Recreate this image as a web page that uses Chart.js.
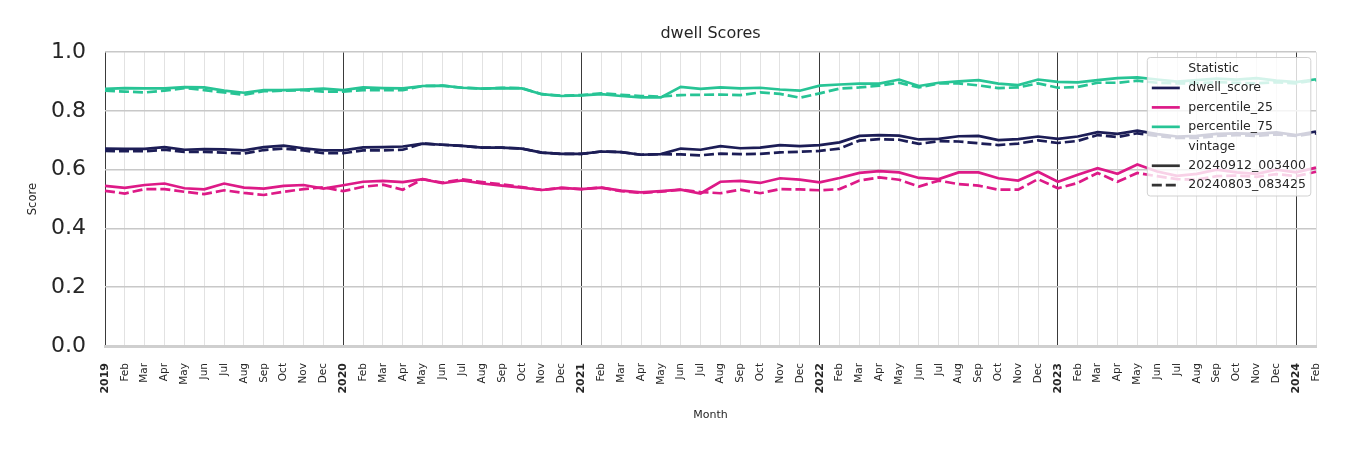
<!DOCTYPE html>
<html>
<head>
<meta charset="utf-8">
<script src="https://cdn.jsdelivr.net/npm/chart.js@4"></script>
<style>
  body { margin: 0; background: #fff; }
  #wrap { width: 1350px; height: 450px; position: relative; }
</style>
</head>
<body>
<div id="wrap"><canvas id="myChart"></canvas></div>
<script>
// months Jan 2019 .. Feb 2024
var monthNames = ['Jan', 'Feb', 'Mar', 'Apr', 'May', 'Jun', 'Jul', 'Aug', 'Sep', 'Oct', 'Nov', 'Dec'];
var years = [2019, 2020, 2021, 2022, 2023, 2024];
var months = [];
years.forEach(function (y) {
    monthNames.forEach(function (m, i) {
        if (y < 2024 || i < 2) months.push(y + '-' + m);
    });
});

// vintage 20240912_003400 (solid)
var dwellNew = [0.672, 0.671, 0.671, 0.677, 0.668, 0.670, 0.669, 0.666, 0.677, 0.682, 0.673, 0.666,
    0.666, 0.676, 0.677, 0.679, 0.689, 0.685, 0.681, 0.675, 0.675, 0.672, 0.658, 0.654,
    0.654, 0.662, 0.660, 0.651, 0.653, 0.672, 0.668, 0.680, 0.673, 0.675, 0.684, 0.680,
    0.684, 0.693, 0.715, 0.718, 0.716, 0.703, 0.705, 0.714, 0.715, 0.701, 0.704, 0.713,
    0.705, 0.713, 0.728, 0.722, 0.733, 0.721, 0.713, 0.715, 0.722, 0.724, 0.722, 0.727,
    0.718, 0.730];
var p25New = [0.545, 0.538, 0.548, 0.553, 0.537, 0.533, 0.553, 0.539, 0.536, 0.545, 0.548, 0.536,
    0.547, 0.559, 0.562, 0.558, 0.568, 0.554, 0.564, 0.553, 0.546, 0.539, 0.531, 0.538,
    0.534, 0.539, 0.529, 0.523, 0.527, 0.532, 0.519, 0.559, 0.562, 0.555, 0.571, 0.566,
    0.557, 0.572, 0.589, 0.595, 0.591, 0.572, 0.568, 0.591, 0.591, 0.571, 0.563, 0.593,
    0.559, 0.583, 0.605, 0.586, 0.618, 0.594, 0.579, 0.586, 0.600, 0.591, 0.586, 0.600,
    0.591, 0.607];
var p75New = [0.875, 0.878, 0.877, 0.877, 0.881, 0.880, 0.869, 0.862, 0.871, 0.871, 0.873, 0.876,
    0.871, 0.880, 0.878, 0.877, 0.885, 0.886, 0.879, 0.876, 0.878, 0.877, 0.857, 0.851,
    0.853, 0.857, 0.851, 0.846, 0.846, 0.882, 0.875, 0.880, 0.877, 0.879, 0.873, 0.869,
    0.886, 0.890, 0.893, 0.893, 0.907, 0.885, 0.896, 0.901, 0.905, 0.893, 0.888, 0.907,
    0.899, 0.897, 0.905, 0.912, 0.914, 0.907, 0.900, 0.905, 0.910, 0.907, 0.912, 0.903,
    0.898, 0.908];

// vintage 20240803_083425 (dashed)
var dwellOld = [0.664, 0.663, 0.663, 0.668, 0.661, 0.661, 0.658, 0.655, 0.667, 0.672, 0.666, 0.656,
    0.656, 0.666, 0.666, 0.668, 0.689, 0.685, 0.681, 0.675, 0.675, 0.672, 0.658, 0.654,
    0.654, 0.662, 0.660, 0.651, 0.653, 0.652, 0.649, 0.655, 0.653, 0.654, 0.659, 0.661,
    0.664, 0.672, 0.699, 0.704, 0.702, 0.688, 0.697, 0.696, 0.690, 0.684, 0.689, 0.700,
    0.691, 0.698, 0.718, 0.711, 0.724, 0.715, 0.708, 0.708, 0.715, 0.718, 0.715, 0.720,
    0.715, 0.724];
var p25Old = [0.528, 0.519, 0.534, 0.534, 0.525, 0.517, 0.530, 0.521, 0.514, 0.525, 0.534, 0.540,
    0.527, 0.542, 0.549, 0.532, 0.568, 0.556, 0.567, 0.558, 0.550, 0.541, 0.531, 0.538,
    0.534, 0.539, 0.527, 0.521, 0.525, 0.532, 0.524, 0.520, 0.532, 0.520, 0.534, 0.533,
    0.530, 0.534, 0.563, 0.574, 0.566, 0.543, 0.563, 0.551, 0.546, 0.532, 0.532, 0.568,
    0.537, 0.555, 0.589, 0.559, 0.589, 0.578, 0.568, 0.566, 0.578, 0.580, 0.576, 0.585,
    0.578, 0.593];
var p75Old = [0.869, 0.866, 0.863, 0.869, 0.878, 0.871, 0.863, 0.855, 0.867, 0.869, 0.871, 0.866,
    0.866, 0.871, 0.871, 0.871, 0.885, 0.886, 0.879, 0.876, 0.879, 0.878, 0.857, 0.852,
    0.854, 0.860, 0.855, 0.851, 0.849, 0.854, 0.855, 0.856, 0.854, 0.863, 0.858, 0.845,
    0.860, 0.876, 0.880, 0.886, 0.896, 0.880, 0.894, 0.894, 0.887, 0.878, 0.880, 0.894,
    0.879, 0.882, 0.896, 0.896, 0.903, 0.896, 0.894, 0.894, 0.898, 0.896, 0.894, 0.898,
    0.894, 0.905];

var yTicks = [0, 0.2, 0.4, 0.6, 0.8, 1.0];

var navy = '#1c1d56';
var pink = '#dd1a87';
var teal = '#27c495';
var dash = [10, 4];
var font = 'DejaVu Sans';

function line(label, data, color, dashed) {
    return {
        label: label,
        data: data,
        borderColor: color,
        backgroundColor: color,
        borderWidth: 2.7,
        borderDash: dashed ? dash : [],
        pointRadius: 0,
        tension: 0,
        fill: false
    };
}

// matplotlib-ish legend box in the top right corner of the plot
var legendBox = {
    id: 'legendBox',
    afterDatasetsDraw: function (chart) {
        var c = chart.ctx, a = chart.chartArea;
        var w = 163.5, h = 138.5;
        var x = a.right - 168.7, y = a.top + 5.3;
        var rows = [
            { text: 'Statistic' },
            { text: 'dwell_score', color: navy },
            { text: 'percentile_25', color: pink },
            { text: 'percentile_75', color: teal },
            { text: 'vintage' },
            { text: '20240912_003400', color: '#333333' },
            { text: '20240803_083425', color: '#333333', dashed: true }
        ];
        c.save();
        c.fillStyle = 'rgba(255,255,255,0.8)';
        c.strokeStyle = 'rgba(204,204,204,0.9)';
        c.lineWidth = 1;
        c.beginPath();
        c.roundRect(x, y, w, h, 3);
        c.fill();
        c.stroke();
        c.font = '12.5px "' + font + '"';
        c.textBaseline = 'middle';
        c.textAlign = 'left';
        rows.forEach(function (r, i) {
            var ry = y + 11 + i * 19.45;
            if (r.color) {
                c.strokeStyle = r.color;
                c.lineWidth = 2.7;
                c.setLineDash(r.dashed ? dash : []);
                c.beginPath();
                c.moveTo(x + 4.5, ry);
                c.lineTo(x + 32.5, ry);
                c.stroke();
                c.setLineDash([]);
            }
            c.fillStyle = '#262626';
            c.fillText(r.text, x + 41, ry);
        });
        c.restore();
    }
};

var ctx = document.getElementById('myChart').getContext('2d');
var myChart = new Chart(ctx, {
    type: 'line',
    data: {
        labels: months,
        datasets: [
            line('dwell_score 20240912_003400', dwellNew, navy, false),
            line('percentile_25 20240912_003400', p25New, pink, false),
            line('percentile_75 20240912_003400', p75New, teal, false),
            line('dwell_score 20240803_083425', dwellOld, navy, true),
            line('percentile_25 20240803_083425', p25Old, pink, true),
            line('percentile_75 20240803_083425', p75Old, teal, true)
        ]
    },
    plugins: [legendBox],
    options: {
        responsive: true,
        maintainAspectRatio: false,
        animation: false,
        layout: { padding: { left: 0, right: 34, top: 0, bottom: 0 } },
        plugins: {
            legend: { display: false },
            tooltip: { enabled: false },
            title: {
                display: true,
                fullSize: false,
                text: 'dwell Scores',
                color: '#262626',
                font: { family: font, size: 16, weight: 'normal' },
                padding: { top: 24, bottom: 9 }
            }
        },
        scales: {
            x: {
                type: 'category',
                offset: false,
                afterFit: function (s) { s.height = 104; },
                grid: {
                    offset: false,
                    drawTicks: false,
                    color: function (c) {
                        return c.index % 12 === 0 ? '#3a3a3a' : '#e2e2e2';
                    },
                    lineWidth: 1
                },
                border: { display: true, color: '#cfcfcf', width: 3 },
                ticks: {
                    autoSkip: false,
                    maxRotation: 90,
                    minRotation: 90,
                    padding: 17,
                    color: '#262626',
                    font: function (c) {
                        var first = c.index % 12 === 0;
                        return { family: font, size: first ? 11 : 10.5, weight: first ? 'bold' : 'normal' };
                    },
                    callback: function (v, i) {
                        var parts = months[i].split('-');
                        return parts[1] === 'Jan' ? parts[0] : parts[1];
                    }
                },
                title: {
                    display: true,
                    text: 'Month',
                    color: '#262626',
                    font: { family: font, size: 11 },
                    padding: { top: 4, bottom: 28 }
                }
            },
            y: {
                min: 0,
                max: 1,
                afterFit: function (s) { s.width = 105; },
                afterBuildTicks: function (s) {
                    s.ticks = yTicks.map(function (v) { return { value: v }; });
                },
                grid: { drawTicks: false, color: '#c8c8c8', lineWidth: 1.6 },
                border: { display: false },
                ticks: {
                    padding: 19,
                    color: '#262626',
                    font: { family: font, size: 22 },
                    callback: function (v) { return Number(v).toFixed(1); }
                },
                title: {
                    display: true,
                    text: 'Score',
                    color: '#262626',
                    font: { family: font, size: 11.5 },
                    padding: { top: 26, bottom: 0 }
                }
            }
        }
    }
});
</script>
</body>
</html>
